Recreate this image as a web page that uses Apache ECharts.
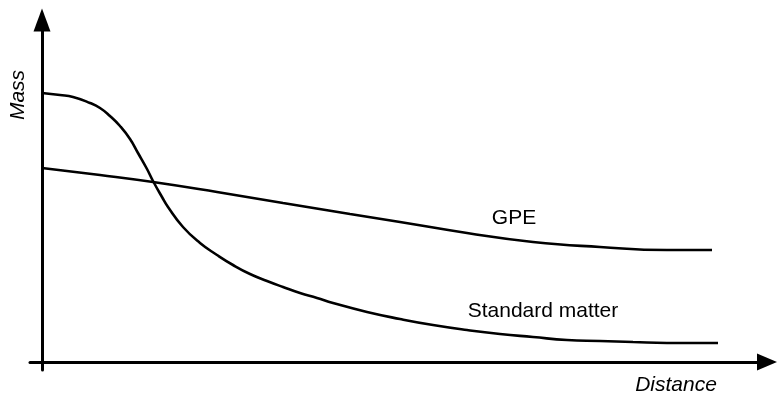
<!DOCTYPE html>
<html>
<head>
<meta charset="utf-8">
<script src="https://cdn.jsdelivr.net/npm/echarts@6/dist/echarts.min.js"></script>
<style>
html,body{margin:0;padding:0;background:#fff;}
#chart{width:777px;height:398px;}
</style>
</head>
<body>
<div id="chart"></div>
<script>
// Schematic: mass vs distance (arbitrary units)
const smDistance = [0,18,31,48,58,68,78,88,96,105,111,120,126,141,158,175,191,208,225,241,258,275,291,325,358,391,425,458,491,525,558,591,625,676];
const smMass     = [269,267,265,259,254,246,236,223,209,193,181,165,155,135,119,107,97,88,81,75,69,64,59,50,43,37,32,28,25,22,21,20,19,19];
const gpeDistance = [0,58,111,175,241,308,358,425,491,558,625,670];
const gpeMass     = [194,187,180,170,159,148,140,129,120,115,112,112];
const seriesNames = ['Standard matter','GPE'];
const labelAt = { 'Standard matter': [501, 51], 'GPE': [472, 144] };
const axisNames = { x: 'Distance', y: 'Mass' };

const FONT = '"Liberation Sans", Arial, sans-serif';
const zip = (xs, ys) => xs.map((x, i) => [x, ys[i]]);

const chart = echarts.init(document.getElementById('chart'), null, {renderer: 'canvas'});

function mkSeries(name, xs, ys) {
  return {
    name: name,
    type: 'line',
    data: zip(xs, ys),
    smooth: 0.5,
    showSymbol: false,
    symbol: 'none',
    lineStyle: {color: '#000', width: 2.6},
    animation: false,
    markPoint: {
      symbol: 'circle',
      symbolSize: 1,
      itemStyle: {color: 'rgba(0,0,0,0)'},
      label: {show: true, position: 'inside', formatter: name, color: '#000', fontSize: 21, fontFamily: FONT},
      data: [{coord: labelAt[name]}]
    }
  };
}

const option = {
  animation: false,
  grid: {left: 30, right: 10, top: 20, bottom: 28, containLabel: false},
  xAxis: {
    type: 'value', min: -12, max: 725,
    axisLine: {show: true, onZero: true, symbol: ['none', 'triangle'], symbolSize: [17, 20], lineStyle: {color: '#000', width: 3}},
    axisTick: {show: false}, axisLabel: {show: false}, splitLine: {show: false}
  },
  yAxis: {
    type: 'value', min: -8, max: 342,
    axisLine: {show: true, onZero: true, symbol: ['none', 'triangle'], symbolSize: [17, 23], lineStyle: {color: '#000', width: 3}},
    axisTick: {show: false}, axisLabel: {show: false}, splitLine: {show: false}
  },
  series: [
    mkSeries(seriesNames[0], smDistance, smMass),
    mkSeries(seriesNames[1], gpeDistance, gpeMass)
  ],
  graphic: [
    {type: 'text', x: 18, y: 95, rotation: Math.PI / 2,
     style: {text: axisNames.y, font: 'italic 21px ' + FONT, align: 'center', verticalAlign: 'middle', fill: '#000'}},
    {type: 'text', x: 676, y: 385,
     style: {text: axisNames.x, font: 'italic 21px ' + FONT, align: 'center', verticalAlign: 'middle', fill: '#000'}}
  ]
};
chart.setOption(option);
</script>
</body>
</html>
